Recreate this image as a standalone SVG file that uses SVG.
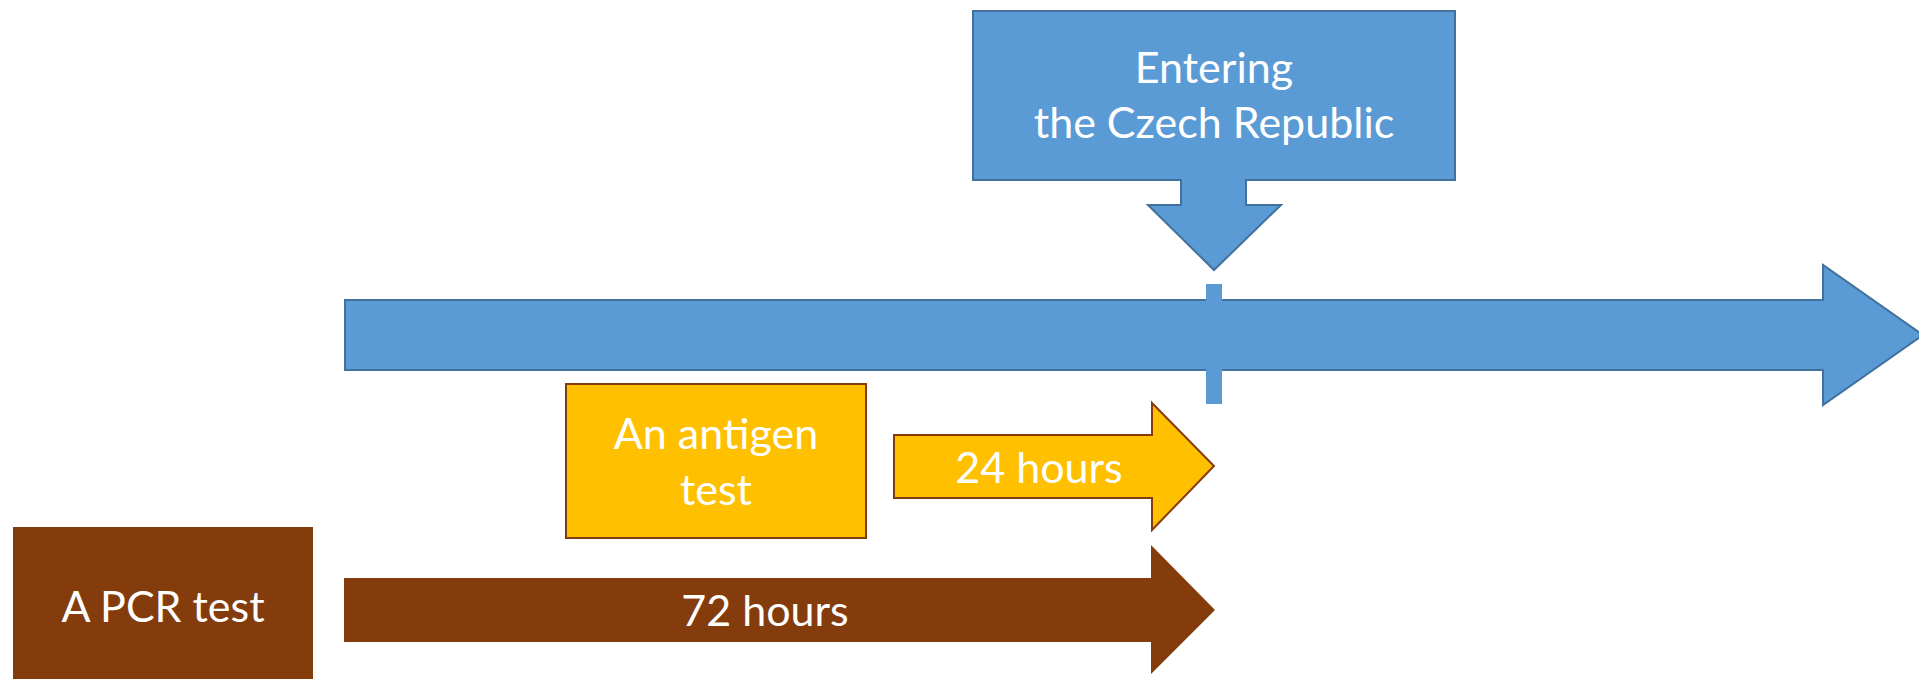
<svg xmlns="http://www.w3.org/2000/svg" width="1919" height="679" viewBox="0 0 1919 679">
  <style>
    .blue { fill: #5b9bd5; stroke: #41719c; stroke-width: 2; }
    .tick { fill: #5b9bd5; }
    .amber { fill: #ffc000; stroke: #843c0c; stroke-width: 2; }
    .brown { fill: #843c0c; }
    .label { font-family: Lato, "Open Sans", "Liberation Sans", sans-serif; font-size: 43px; fill: #ffffff; text-anchor: middle; }
  </style>
  <rect width="1919" height="679" fill="#ffffff"/>

  <!-- timeline arrow with the border-crossing tick -->
  <g id="timeline">
    <path class="blue" d="M345,300 H1823 V265 L1923,335 L1823,405 V370 H345 Z"/>
    <rect class="tick" x="1206" y="284" width="16" height="120"/>
  </g>

  <!-- down-pointing callout marking the entry moment -->
  <g id="entry">
    <path class="blue" d="M973,11 H1455 V180 H1246 V205 H1281 L1214,270 L1148,205 H1181 V180 H973 Z"/>
    <text class="label" x="1214" y="83">Entering</text>
    <text class="label" x="1214" y="138">the Czech Republic</text>
  </g>

  <g id="antigen-test">
    <rect class="amber" x="566" y="384" width="300" height="154"/>
    <text class="label" x="716" y="449">An antigen</text>
    <text class="label" x="716" y="505">test</text>
  </g>

  <g id="pcr-test">
    <rect class="brown" x="13" y="527" width="300" height="160"/>
    <text class="label" x="163" y="622">A PCR test</text>
  </g>

  <!-- validity windows leading up to entry -->
  <g id="connectors">
    <g id="window-24h">
      <path class="amber" d="M894,435 H1152 V403 L1214,466 L1152,530 V498 H894 Z"/>
      <text class="label" x="1039" y="483">24 hours</text>
    </g>
    <g id="window-72h">
      <path class="brown" d="M344,578 H1151 V545 L1215,610 L1151,674 V642 H344 Z"/>
      <text class="label" x="765" y="626">72 hours</text>
    </g>
  </g>
</svg>
